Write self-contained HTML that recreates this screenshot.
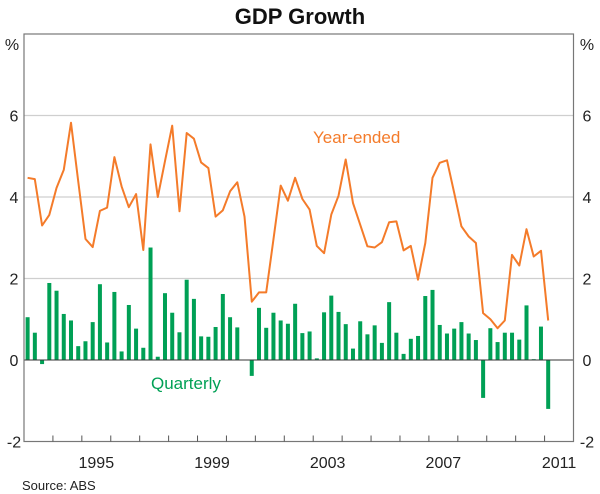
<!DOCTYPE html>
<html><head><meta charset="utf-8"><style>
body{margin:0;background:#fff;width:600px;height:494px;overflow:hidden}
svg{display:block;font-family:"Liberation Sans",Arial,sans-serif}
</style></head><body>
<svg id="c" width="600" height="494">
<text x="300" y="24" text-anchor="middle" font-size="22" font-weight="bold" fill="#111">GDP Growth</text>
<g id="grid"></g><g id="bars"></g><g id="line"></g><g id="axes"></g>
<text x="313" y="143" font-size="17" fill="#f47b2a">Year-ended</text>
<text x="151" y="389" font-size="17" fill="#00a055">Quarterly</text>
<text x="22" y="490" font-size="13" fill="#222">Source: ABS</text>
</svg>
<script>
const quarterly=[1.05,0.67,-0.1,1.89,1.70,1.13,0.97,0.34,0.46,0.93,1.86,0.43,1.67,0.21,1.35,0.77,0.30,2.76,0.08,1.64,1.16,0.68,1.97,1.5,0.58,0.57,0.81,1.62,1.05,0.80,0.0,-0.39,1.28,0.79,1.16,0.97,0.89,1.38,0.66,0.70,0.04,1.17,1.58,1.18,0.88,0.28,0.95,0.63,0.85,0.42,1.42,0.67,0.15,0.52,0.59,1.57,1.72,0.86,0.65,0.77,0.93,0.65,0.49,-0.93,0.78,0.44,0.67,0.67,0.5,1.34,0.02,0.82,-1.2];
const yearEnded=[4.47,4.44,3.30,3.56,4.22,4.67,5.82,4.39,2.97,2.77,3.66,3.74,4.98,4.26,3.75,4.07,2.70,5.29,4.0,4.88,5.75,3.65,5.57,5.43,4.85,4.71,3.52,3.67,4.14,4.36,3.52,1.43,1.66,1.66,2.95,4.28,3.91,4.47,3.95,3.69,2.80,2.62,3.57,4.03,4.92,3.85,3.32,2.79,2.76,2.89,3.38,3.40,2.69,2.80,1.97,2.87,4.47,4.84,4.90,4.10,3.28,3.03,2.87,1.15,1.0,0.78,0.97,2.58,2.32,3.21,2.54,2.68,0.97];
const yTicks=[-2,0,2,4,6];
const yearLabels=[1995,1999,2003,2007,2011];
const startYear=1993;
const NS='http://www.w3.org/2000/svg';
const L=24,R=573.5,T=34,B=441.5,yMin=-2,yMax=8,x0=1993,x1=2012;
const xs=t=>L+(t-x0)/(x1-x0)*(R-L);
const ys=v=>B-(v-yMin)/(yMax-yMin)*(B-T);
function mk(tag,attrs,parent){const e=document.createElementNS(NS,tag);for(const k in attrs)e.setAttribute(k,attrs[k]);document.getElementById(parent).appendChild(e);return e;}
yTicks.forEach(v=>{
 if(v>yMin&&v!==0){const g=mk('line',{x1:L,x2:R,y1:ys(v),y2:ys(v),stroke:'#cfcfcf','stroke-width':1.2},'grid');
 
 }
 const a=mk('text',{x:14,y:ys(v)+6,'text-anchor':'middle','font-size':16,fill:'#222'},'axes');a.textContent=v;
 
 
 const b=mk('text',{x:587,y:ys(v)+6,'text-anchor':'middle','font-size':16,fill:'#222'},'axes');b.textContent=v;
 
 
});
['l','r'].forEach((s,i)=>{const p=mk('text',{x:i?587:12,y:50,'text-anchor':'middle','font-size':16,fill:'#222'},'axes');p.textContent='%';
 
 });
quarterly.forEach((v,i)=>{const t=startYear+(i+0.5)/4,y0=ys(0),y1=ys(v);
 const r=mk('rect',{x:xs(t)-2,y:Math.min(y0,y1),width:4,height:Math.abs(y1-y0),fill:'#00a055'},'bars');
 
 });
const pts=yearEnded.map((v,i)=>xs(startYear+(i+0.5)/4).toFixed(1)+','+ys(v).toFixed(1)).join(' ');
const pl=mk('polyline',{points:pts,fill:'none',stroke:'#f47b2a','stroke-width':2,'stroke-linejoin':'round'},'line');


const z=mk('line',{x1:L,x2:R,y1:ys(0),y2:ys(0),stroke:'#333','stroke-width':1},'axes');


const fr=mk('rect',{x:L,y:T,width:R-L,height:B-T,fill:'none',stroke:'#777','stroke-width':1.2},'axes');


for(let y=x0+1;y<x1;y++){const tk=mk('line',{x1:xs(y),x2:xs(y),y1:B,y2:B-6,stroke:'#555','stroke-width':1},'axes');
 
 }
yearLabels.forEach(yr=>{const t=mk('text',{x:xs(yr+0.5),y:468,'text-anchor':'middle','font-size':16,fill:'#222'},'axes');t.textContent=yr;
 
 });
</script>
</body></html>
